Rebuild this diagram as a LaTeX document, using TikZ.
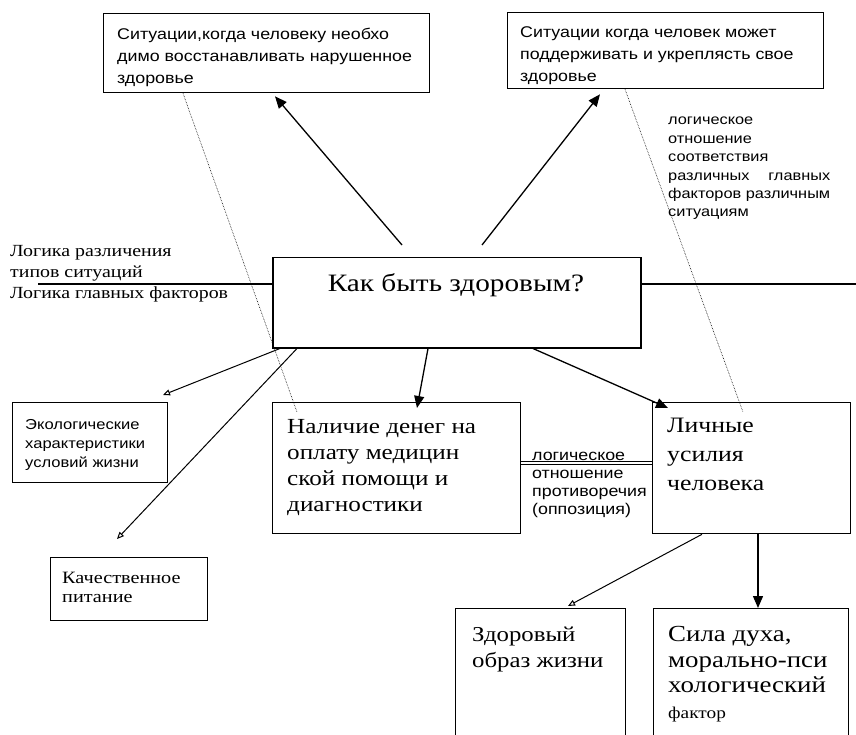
\documentclass[tikz,border=0pt]{standalone}
\usepackage{fontspec}
\setmainfont{Liberation Serif}[FakeStretch=1.17]
\newfontfamily\arialf{Liberation Sans}[FakeStretch=1.15]
\usetikzlibrary{arrows.meta,calc}
\tikzset{
  boxn/.style={draw, line width=1.3pt, rectangle, inner sep=0pt, anchor=north west},
  txt/.style={inner sep=0pt, anchor=base west, align=left},
  arr/.style={line width=1.3pt, -{Triangle[length=12pt,width=10pt]}},
  oarr/.style={line width=1pt, -{Triangle[open,length=7pt,width=6pt]}},
  dotl/.style={densely dotted, line width=0.6pt},
  plainl/.style={line width=1.2pt},
}
\begin{document}
\begin{tikzpicture}[x=1pt,y=-1pt]
\useasboundingbox (0,0) rectangle (856,735);
% boxes
\node[boxn, minimum width=326pt, minimum height=79pt] (tl) at (103,13) {};
\node[boxn, minimum width=316pt, minimum height=76pt] (tr) at (507,12) {};
\node[boxn, line width=1.5pt, minimum width=368pt, minimum height=90pt] (c) at (272,257) {};
\node[boxn, minimum width=155pt, minimum height=80pt] (eco) at (12,402) {};
\node[boxn, minimum width=157pt, minimum height=63pt] (kach) at (50,557) {};
\node[boxn, minimum width=248pt, minimum height=131pt] (nal) at (272,402) {};
\node[boxn, minimum width=198pt, minimum height=131pt] (li) at (652,402) {};
\node[boxn, minimum width=170pt, minimum height=140pt] (zd) at (455,608) {};
\node[boxn, minimum width=195pt, minimum height=140pt] (sd) at (653,608) {};
% texts (anchored at the baseline of their last line)
\node[txt, font=\arialf\fontsize{15.5}{22}\selectfont] (tlT) at (117,84)
  {Ситуации,когда человеку необхо\\димо восстанавливать нарушенное\\здоровье};
\node[txt, font=\arialf\fontsize{15.5}{22}\selectfont] (trT) at (520,82)
  {Ситуации когда человек может\\поддерживать и укреплясть свое\\здоровье};
\node[txt, font=\arialf\fontsize{14.2}{18.4}\selectfont] (rlT) at (668,217)
  {логическое\\отношение\\соответствия\\\hbox to 162pt{различных\hfill главных}\\факторов различным\\ситуациям};
\node[txt, font=\fontsize{17}{21}\selectfont] (leftT) at (10,298)
  {Логика различения\\типов ситуаций\\Логика главных факторов};
\node[inner sep=0pt, anchor=base, font=\fontsize{25}{30}\selectfont] (cT) at (456,291) {Как быть здоровым?};
\node[txt, font=\arialf\fontsize{14.4}{19}\selectfont] (ecoT) at (25,467)
  {Экологические\\характеристики\\условий жизни};
\node[txt, font=\fontsize{17.3}{19}\selectfont] (kachT) at (62,602)
  {Качественное\\питание};
\node[txt, font=\fontsize{21.5}{26}\selectfont] (nalT) at (287,511)
  {Наличие денег на\\оплату медицин\\ской помощи и\\диагностики};
\node[txt, font=\fontsize{22}{29}\selectfont] (liT) at (667,490)
  {Личные\\усилия\\человека};
\node[txt, font=\arialf\fontsize{15.5}{18}\selectfont] (midT) at (532,514)
  {\underline{логическое}\\отношение\\противоречия\\(оппозиция)};
\node[txt, font=\fontsize{21.2}{26}\selectfont] (zdT) at (472,667)
  {Здоровый\\образ жизни};
\node[txt, font=\fontsize{23}{25.5}\selectfont] (sdT) at (668,718)
  {Сила духа,\\морально-пси\\хологический\\{\fontsize{16.5}{25.5}\selectfont фактор}};
% horizontal line
\coordinate (hl) at (38,284);
\coordinate (hr) at (856,284);
\draw[plainl] (hl) -- ([yshift=-27pt]c.north west);
\draw[plainl] ([yshift=-27pt]c.north east) -- (hr);
% arrows
\draw[arr] ([xshift=130pt,yshift=12pt]c.north west) -- ([xshift=172pt,yshift=-3pt]tl.south west);
\draw[arr] ([xshift=210pt,yshift=12pt]c.north west) -- ([xshift=93pt,yshift=-5pt]tr.south west);
\draw[oarr] ([xshift=8pt]c.south west) -- ([xshift=151pt,yshift=7pt]eco.north west);
\draw[oarr] ([xshift=25pt]c.south west) -- ([xshift=67pt,yshift=18pt]kach.north west);
\draw[arr] ([xshift=156pt]c.south west) -- ([xshift=145pt,yshift=-6pt]nal.north west);
\draw[arr] ([xshift=261pt]c.south west) -- ([xshift=16pt,yshift=-6pt]li.north west);
\draw[oarr] ([xshift=50pt]li.south west) -- ([xshift=113pt,yshift=2pt]zd.north west);
\draw[arr] ([xshift=106pt]li.south west) -- ([xshift=105pt]sd.north west);
% dotted lines
\draw[dotl] ([xshift=80pt]tl.south west) -- ([xshift=25pt,yshift=-10pt]nal.north west);
\draw[dotl] ([xshift=118pt]tr.south west) -- ([xshift=91pt,yshift=-10pt]li.north west);
% double line
\draw[line width=1pt, double, double distance=2.2pt] ([yshift=-61pt]nal.north east) -- ([yshift=-61pt]li.north west);
\end{tikzpicture}
\end{document}
